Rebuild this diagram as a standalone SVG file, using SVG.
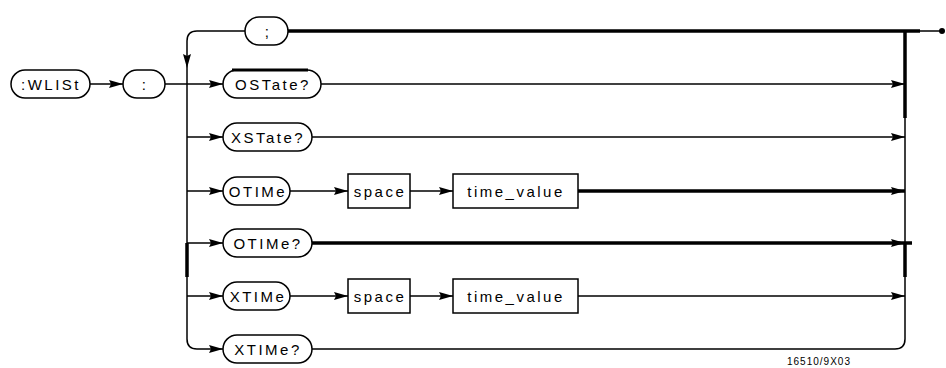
<svg xmlns="http://www.w3.org/2000/svg" width="946" height="368" viewBox="0 0 946 368">
<defs>
<marker id="ah" markerUnits="userSpaceOnUse" markerWidth="16" markerHeight="10" refX="14" refY="5" orient="auto">
<path d="M0,1 L14,5 L0,9 L2,5 z" fill="#000"/>
</marker>
</defs>
<style>
.pill{fill:#fff;stroke:#000;stroke-width:1.5}
.box{fill:#fff;stroke:#000;stroke-width:1.5}
.t{font-family:"Liberation Sans",Arial,sans-serif;font-size:15px;letter-spacing:2.5px;fill:#000;text-anchor:middle;dominant-baseline:central}
.c{fill:none;stroke:#000;stroke-width:1.5}
.a{marker-end:url(#ah)}
.k{stroke-width:3.5}
</style>
<rect width="946" height="368" fill="#fff"/>
<g id="connectors">
<path class="c a" d="M90,84 H123"/>
<path class="c a" d="M165,84 H223"/>
<path class="c a" d="M245,31 H197 Q187,31 187,41 V68"/>
<path class="c" d="M187,68 V339"/>
<path class="c k" d="M187,243 V277"/>
<path class="c a" d="M187,339 Q187,349 197,349 H223"/>
<path class="c a" d="M187,137 H223"/>
<path class="c a" d="M187,191 H223"/>
<path class="c a" d="M187,243 H223"/>
<path class="c a" d="M187,296 H223"/>
<path class="c a" d="M321,84 H905"/>
<path class="c a" d="M312,137 H905"/>
<path class="c a" d="M290,191 H348"/>
<path class="c a" d="M410,191 H453"/>
<path class="c k a" d="M578,191 H905"/>
<path class="c k a" d="M312,243 H905"/>
<path class="c k" d="M905,243 H912"/>
<path class="c a" d="M290,296 H348"/>
<path class="c a" d="M410,296 H453"/>
<path class="c a" d="M578,296 H905"/>
<path class="c" d="M312,349 H895 Q905,349 905,339 V31"/>
<path class="c k" d="M905,31 V118"/>
<path class="c k" d="M905,243 V277"/>
<path class="c k" d="M288,31 H920"/>
<path class="c" d="M920,31 H940"/>
<circle cx="942" cy="31" r="3" fill="#000"/>
</g>
<g id="n_wlist"><rect class="pill" x="11" y="70" width="79" height="28" rx="14"/><text class="t" x="51" y="84">:WLISt</text></g>
<g id="n_colon"><rect class="pill" x="123" y="70" width="42" height="28" rx="14"/><text class="t" x="145" y="84">:</text></g>
<g id="n_semi"><rect class="pill" x="245" y="17" width="43" height="28" rx="14"/><text class="t" x="268" y="31">;</text></g>
<g id="n_ostate"><rect class="pill" x="223" y="70" width="98" height="28" rx="14"/><line x1="232" y1="70" x2="308" y2="70" stroke="#000" stroke-width="3"/><text class="t" x="273" y="84">OSTate?</text></g>
<g id="n_xstate"><rect class="pill" x="223" y="123" width="89" height="28" rx="14"/><text class="t" x="268" y="137">XSTate?</text></g>
<g id="n_otime"><rect class="pill" x="223" y="177" width="67" height="28" rx="14"/><text class="t" x="258" y="191">OTIMe</text></g>
<g id="n_space1"><rect class="box" x="348" y="174" width="62" height="34"/><text class="t" x="380" y="191">space</text></g>
<g id="n_tv1"><rect class="box" x="453" y="174" width="125" height="34"/><text class="t" x="516" y="191">time_value</text></g>
<g id="n_otimeq"><rect class="pill" x="223" y="229" width="89" height="28" rx="14"/><text class="t" x="268" y="243">OTIMe?</text></g>
<g id="n_xtime"><rect class="pill" x="223" y="282" width="67" height="28" rx="14"/><text class="t" x="258" y="296">XTIMe</text></g>
<g id="n_space2"><rect class="box" x="348" y="279" width="62" height="34"/><text class="t" x="380" y="296">space</text></g>
<g id="n_tv2"><rect class="box" x="453" y="279" width="125" height="34"/><text class="t" x="516" y="296">time_value</text></g>
<g id="n_xtimeq"><rect class="pill" x="223" y="335" width="89" height="28" rx="14"/><text class="t" x="268" y="349">XTIMe?</text></g>
<text x="787" y="365" font-family="'Liberation Sans',Arial,sans-serif" font-size="10" letter-spacing="1" fill="#000">16510/9X03</text>
</svg>
